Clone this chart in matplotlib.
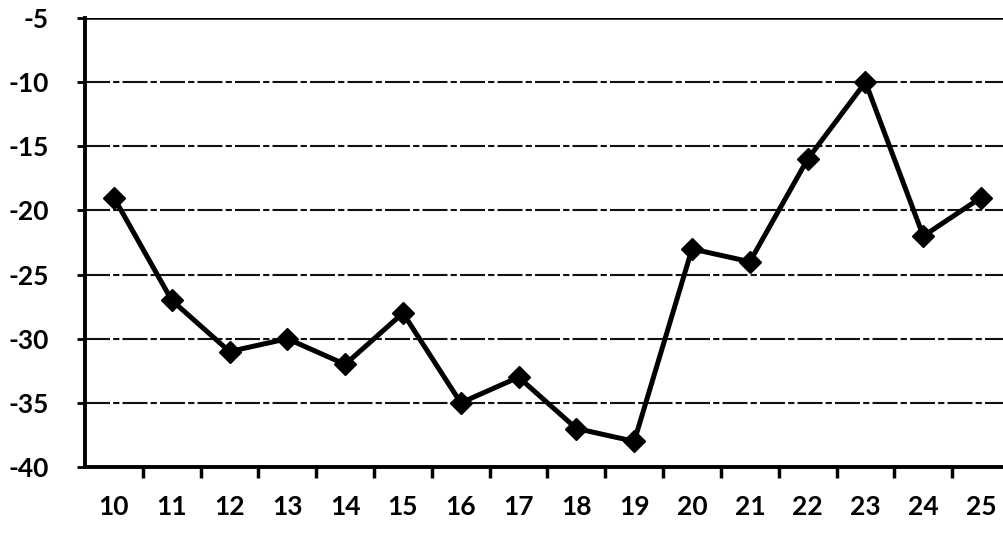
import matplotlib.pyplot as plt
from matplotlib.ticker import FixedLocator

plt.rcParams['axes.unicode_minus'] = False
plt.rcParams['font.family'] = ['Lato', 'DejaVu Sans']

# data
categories = ['10', '11', '12', '13', '14', '15', '16', '17',
              '18', '19', '20', '21', '22', '23', '24', '25']
values = [-19, -27, -31, -30, -32, -28, -35, -33,
          -37, -38, -23, -24, -16, -10, -22, -19]
y_ticks = [-40, -35, -30, -25, -20, -15, -10, -5]

fig = plt.figure(figsize=(10.04, 5.33), dpi=100)
# plot area runs past the right edge, as in the scan
ax = fig.add_axes([85 / 1004, 66 / 533, 925 / 1004, 449 / 533])

xs = list(range(len(categories)))

for yv in y_ticks[1:-1]:
    ax.axhline(yv, color='#111111', lw=1.5, ls=(0, (12, 1.5, 3, 1.5)), zorder=1)
ax.axhline(-5, color='black', lw=1.8, zorder=1)

ax.plot(xs, values, color='black', lw=3.6, marker='D', markersize=11,
        markerfacecolor='black', markeredgecolor='black', zorder=3)

ax.set_xlim(-0.5, len(categories) - 0.5)
ax.set_ylim(-40, -5)

ax.set_xticks(xs)
ax.set_xticklabels(categories)
ax.xaxis.set_minor_locator(FixedLocator([i + 0.5 for i in xs[:-1]]))
ax.tick_params(axis='x', which='major', length=0, pad=20, labelsize=19)
ax.tick_params(axis='x', which='minor', length=8, width=2.5, direction='out')

ax.set_yticks(y_ticks)
ax.set_yticklabels([str(v) for v in y_ticks])
ax.tick_params(axis='y', length=6, width=2, pad=20, labelsize=19)

for lab in ax.get_xticklabels() + ax.get_yticklabels():
    lab.set_fontweight('bold')

ax.spines['left'].set_linewidth(2.8)
ax.spines['bottom'].set_linewidth(2.8)
ax.spines['top'].set_visible(False)
ax.spines['right'].set_visible(False)

fig.savefig('out.png', dpi=100)
